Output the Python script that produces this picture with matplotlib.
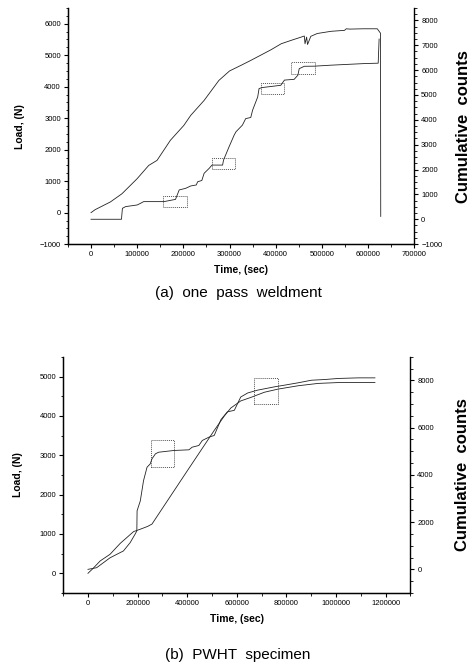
import numpy as np
import matplotlib
matplotlib.use("Agg")
import matplotlib.pyplot as plt
from matplotlib.patches import Rectangle
from matplotlib.ticker import MultipleLocator, FixedLocator

plt.rcParams['font.family'] = ['Liberation Sans', 'DejaVu Sans']

# ---- (a) one pass weldment ----
t_a_load = [0, 9, 42, 67, 100, 125, 143, 172, 201, 216, 245, 277, 300, 325, 346, 390, 412, 433,
            455, 462, 463.5, 467, 469, 476, 490, 520, 549, 553, 560, 590, 620, 627, 627.5]
load_a = [0, 95, 340, 600, 1080, 1500, 1660, 2300, 2770, 3090, 3565, 4200, 4500, 4680, 4835, 5175, 5365, 5470,
          5575, 5610, 5365, 5575, 5340, 5600, 5690, 5760, 5790, 5840, 5830, 5840, 5840, 5700, -120]
t_a_cnt = [0, 60, 66, 68, 75, 100, 107, 114, 158, 183, 191, 205, 216, 228, 231, 240, 245, 256, 262,
           285, 287, 299, 310, 314, 328, 335, 346, 350, 361, 364, 371, 411, 419, 440, 448, 451, 462,
           484, 520, 593, 622, 624]
cnt_a = [0, 0, 0, 440, 510, 575, 640, 710, 710, 800, 1180, 1245, 1340, 1380, 1510, 1560, 1850, 2050, 2180,
         2180, 2380, 2915, 3385, 3520, 3790, 4050, 4095, 4390, 4920, 5260, 5300, 5390, 5600, 5630, 5795, 6060, 6155,
         6160, 6200, 6265, 6280, 7250]
# boxes: (t0, t1, c0, c1) on counts axis, t in 1000 s
boxes_a = [(156.5, 207, 506, 948), (261.5, 312, 2008, 2474), (369, 418, 5020, 5486), (434, 485, 5863, 6329)]

# ---- (b) PWHT specimen ----
t_b_load = [0, 20, 49, 89, 130, 184, 211, 240, 258, 300, 400, 508, 550, 576, 616, 657, 711, 766, 847, 928,
            1022, 1157]
load_b = [0, 120, 313, 483, 760, 1060, 1120, 1190, 1250, 1650, 2600, 3620, 4000, 4200, 4380, 4470, 4600, 4680,
          4765, 4825, 4850, 4850]
t_b_cnt = [0, 35, 89, 143, 170, 190, 197, 198, 211, 224, 238, 251, 258, 272, 285, 346, 407, 420, 447, 461,
           488, 509, 536, 562, 590, 616, 644, 684, 752, 792, 847, 901, 955, 1009, 1090, 1157]
cnt_b = [0, 70, 490, 780, 1130, 1490, 1630, 2480, 2900, 3757, 4323, 4468, 4680, 4893, 4961, 5034, 5063, 5174,
         5246, 5459, 5600, 5670, 6340, 6670, 6735, 7300, 7470, 7590, 7730, 7800, 7900, 8010, 8040, 8085, 8110, 8110]
boxes_b = [(254, 346, 4353, 5459), (668, 766, 7020, 8110)]

fig = plt.figure(figsize=(4.75, 6.67), dpi=100)
lc = '#222222'
tick_fs = 5.5


def panel(rect, t_load, load, t_cnt, cnt, boxes, xlim, ylim1, ylim2, xstep, y1step, y2step, y1minor, y2minor,
          lpad, rpad):
    ax = fig.add_axes(rect)
    ax2 = ax.twinx()
    ax.plot(np.array(t_load) * 1000, load, color=lc, lw=0.6)
    ax2.plot(np.array(t_cnt) * 1000, cnt, color=lc, lw=0.6)
    for t0, t1, c0, c1 in boxes:
        ax2.add_patch(Rectangle((t0 * 1000, c0), (t1 - t0) * 1000, c1 - c0, fill=False,
                                ls=(0, (1, 1)), lw=0.7, ec='#555555'))
    ax.set_xlim(*xlim); ax.set_ylim(*ylim1); ax2.set_ylim(*ylim2)
    ax.xaxis.set_major_locator(FixedLocator(np.arange(0, xlim[1] + 1, xstep)))
    ax.xaxis.set_minor_locator(MultipleLocator(xstep / 2))
    ax.yaxis.set_major_locator(MultipleLocator(y1step)); ax.yaxis.set_minor_locator(MultipleLocator(y1minor))
    ax2.yaxis.set_major_locator(MultipleLocator(y2step)); ax2.yaxis.set_minor_locator(MultipleLocator(y2minor))
    ax.ticklabel_format(style='plain', useOffset=False)
    for a in (ax, ax2):
        a.spines['top'].set_visible(False)
        a.tick_params(labelsize=tick_fs, width=0.8, length=3, pad=2)
        a.tick_params(which='minor', width=0.6, length=1.8)
    ax.spines['right'].set_visible(False)
    ax.spines['left'].set_linewidth(1.0); ax.spines['bottom'].set_linewidth(1.0)
    ax2.spines['right'].set_linewidth(1.0)
    ax.set_xlabel("Time, (sec)", fontsize=7.5, fontweight='bold', labelpad=5)
    ax.set_ylabel("Load, (N)", fontsize=7.5, fontweight='bold', labelpad=lpad)
    ax2.set_ylabel("Cumulative  counts", fontsize=12, fontweight='bold', labelpad=rpad,
                   family=['Liberation Sans Narrow', 'Liberation Sans'])
    return ax, ax2


panel([0.143, 0.634, 0.729, 0.354], t_a_load, load_a, t_a_cnt, cnt_a, boxes_a,
      (-50000, 700000), (-1000, 6500), (-1000, 8500), 100000, 1000, 1000, 250, 250, 11, 10)
panel([0.133, 0.111, 0.731, 0.354], t_b_load, load_b, t_b_cnt, cnt_b, boxes_b,
      (-100000, 1300000), (-500, 5500), (-1000, 9000), 200000, 1000, 2000, 500, 500, 12, 15)

fig.text(0.501, 0.561, "(a)  one  pass  weldment", ha='center', va='center', fontsize=11)
fig.text(0.501, 0.018, "(b)  PWHT  specimen", ha='center', va='center', fontsize=11)

fig.savefig("out.png", dpi=100)
